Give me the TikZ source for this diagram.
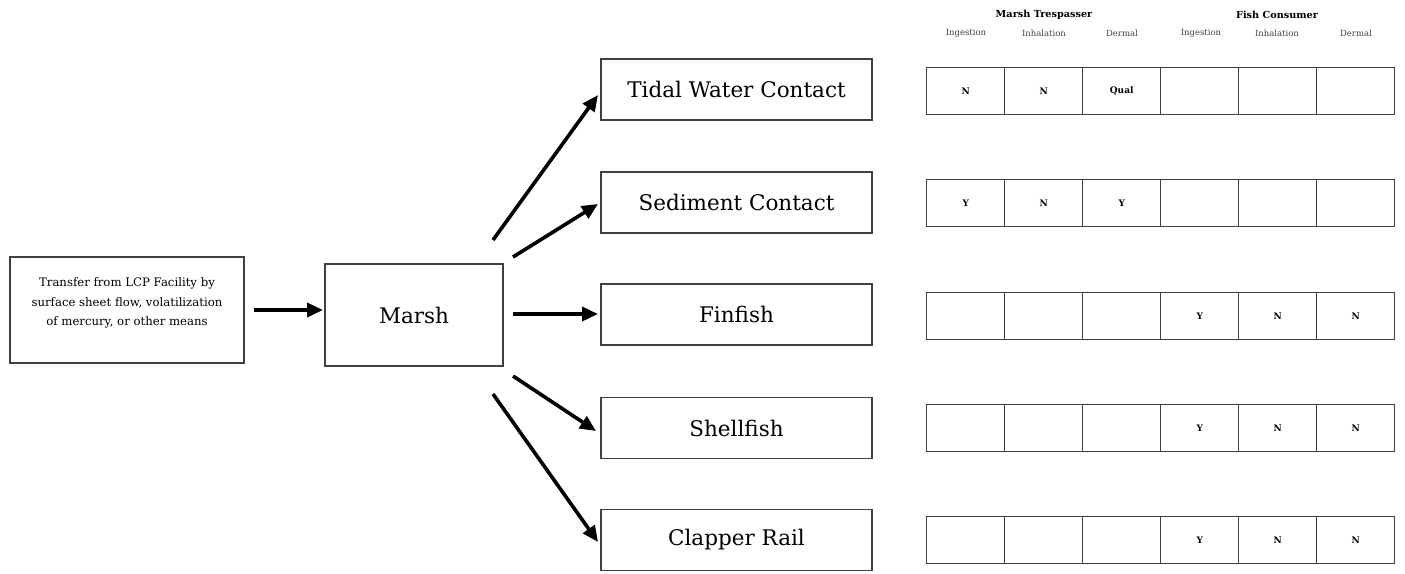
\documentclass[tikz,border=0pt]{standalone}
\usepackage{fontspec}
\setmainfont{DejaVu Serif}
\usetikzlibrary{arrows.meta}
\begin{document}
\begin{tikzpicture}[x=1pt,y=-1pt,
  box/.style={draw=black!75,line width=1.6pt,inner sep=0pt},
  cell/.style={draw=black!75,line width=1.4pt,minimum width=78pt,minimum height=47pt,inner sep=0pt,font=\fontsize{9}{10}\selectfont\bfseries,anchor=north west},
  arr/.style={line width=3.6pt,-{Triangle[length=16pt,width=14pt]}},
  big/.style={font=\fontsize{21.5}{24}\selectfont}
]
\useasboundingbox (0,0) rectangle (1405,573);
% source and marsh
\node[box,minimum width=234pt,minimum height=106pt] (src) at (127,310) {};
\node[align=center,inner sep=0pt,font=\fontsize{11.7}{19.5}\selectfont] (srct) at ([yshift=7pt]src.center) {Transfer from LCP Facility by\\surface sheet flow, volatilization\\of mercury, or other means};
\node[box,minimum width=178pt,minimum height=102pt,big] (marsh) at (414,315) {Marsh};
% right boxes
\node[box,minimum width=271pt,minimum height=61pt,big] (tidal) at (736.5,89.5) {Tidal Water Contact};
\node[box,minimum width=271pt,minimum height=61pt,big] (sed) at (736.5,202.5) {Sediment Contact};
\node[box,minimum width=271pt,minimum height=61pt,big] (fin) at (736.5,314.5) {Finfish};
\node[box,minimum width=271pt,minimum height=61pt,big] (shell) at (736.5,428) {Shellfish};
\node[box,minimum width=271pt,minimum height=61pt,big] (rail) at (736.5,540) {Clapper Rail};
% arrows
\coordinate (s0) at (254,310);
\coordinate (s1) at (323,310);
\coordinate (m1) at (493,240);
\coordinate (m2) at (513,257);
\coordinate (m3) at (513,314);
\coordinate (m4) at (513,376);
\coordinate (m5) at (493,394);
\coordinate (t1) at (598,95);
\coordinate (t2) at (598,204);
\coordinate (t3) at (598,314);
\coordinate (t4) at (596,431);
\coordinate (t5) at (598,542);
\draw[arr] (s0) -- (s1);
\draw[arr] (m1) -- (t1);
\draw[arr] (m2) -- (t2);
\draw[arr] (m3) -- (t3);
\draw[arr] (m4) -- (t4);
\draw[arr] (m5) -- (t5);
% headers
\node[font=\fontsize{9.7}{11}\selectfont\bfseries] (h1) at (1044,15) {Marsh Trespasser};
\node[font=\fontsize{9.7}{11}\selectfont\bfseries] (h2) at (1277,15) {Fish Consumer};
\foreach \x/\t [count=\i] in {966/Ingestion,1044/Inhalation,1122/Dermal,1201/Ingestion,1277/Inhalation,1356/Dermal}
  \node[font=\fontsize{8.5}{10}\selectfont,text=black!75] (sh\i) at (\x,33) {\t};
% table rows
\foreach \y/\a/\b/\c/\d/\e/\f [count=\r] in {67/N/N/Qual/{}/{}/{},179/Y/N/Y/{}/{}/{},292/{}/{}/{}/Y/N/N,404/{}/{}/{}/Y/N/N,516/{}/{}/{}/Y/N/N}{
  \node[cell] (c\r a) at (926,\y) {\a};
  \node[cell] (c\r b) at (1004,\y) {\b};
  \node[cell] (c\r c) at (1082,\y) {\c};
  \node[cell] (c\r d) at (1160,\y) {\d};
  \node[cell] (c\r e) at (1238,\y) {\e};
  \node[cell] (c\r f) at (1316,\y) {\f};
}
\end{tikzpicture}
\end{document}
